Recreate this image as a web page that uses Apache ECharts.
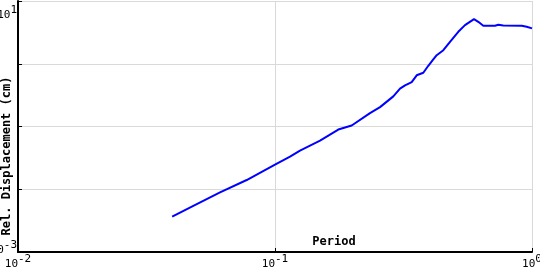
<!DOCTYPE html>
<html>
<head>
<meta charset="utf-8">
<script src="https://cdn.jsdelivr.net/npm/echarts@6/dist/echarts.min.js"></script>
<style>html,body{margin:0;padding:0;background:#fff}#c{width:540px;height:270px}</style>
</head>
<body>
<div id="c"></div>
<script>
const periods = [0.0398, 0.0481, 0.0611, 0.0776, 0.1, 0.1144, 0.1251, 0.1497, 0.1763, 0.1988, 0.2342, 0.2563, 0.2886, 0.3065, 0.3206, 0.3403, 0.3559, 0.3776, 0.3949, 0.4108, 0.4258, 0.4518, 0.4797, 0.5166, 0.5486, 0.5947, 0.618, 0.6463, 0.7178, 0.7395, 0.773, 0.912, 0.9537, 1.0];
const displacements = [0.00367, 0.00544, 0.00889, 0.01403, 0.02466, 0.0331, 0.0413, 0.0597, 0.0895, 0.1038, 0.163, 0.2036, 0.302, 0.401, 0.453, 0.511, 0.655, 0.718, 0.929, 1.138, 1.368, 1.644, 2.235, 3.23, 4.13, 5.15, 4.66, 4.03, 4.03, 4.18, 4.08, 4.03, 3.88, 3.66];
const xTitle = 'Period';
const yTitle = 'Rel. Displacement (cm)';

const FONT = '"DejaVu Sans Mono", monospace';
const rich = {
  b: {fontFamily: FONT, fontSize: 11, color: '#000'},
  s: {fontFamily: FONT, fontSize: 11, color: '#000', padding: [0, 0, 9, 0]},
  n: {fontFamily: FONT, fontSize: 11, lineHeight: 28},
  m: {fontFamily: FONT, fontSize: 11, lineHeight: 4}
};
const expOf = v => Math.round(Math.log10(v));

const chart = echarts.init(document.getElementById('c'), null, {renderer: 'canvas'});
chart.setOption({
  animation: false,
  backgroundColor: '#fff',
  grid: {left: 18, right: 8, top: 1, bottom: 18, containLabel: false, outerBoundsMode: 'none'},
  xAxis: {
    type: 'log', logBase: 10, min: 0.01, max: 1,
    name: xTitle, nameLocation: 'middle', nameGap: -16, nameMoveOverlap: false,
    nameTextStyle: {fontFamily: FONT, fontSize: 12, fontWeight: 'bold', color: '#000', padding: [0, 0, 0, 118]},
    axisLine: {show: true, onZero: false, lineStyle: {color: '#000', width: 2}},
    axisTick: {show: true, inside: true, length: 4, lineStyle: {color: '#000', width: 1}},
    minorTick: {show: false},
    splitLine: {show: true, lineStyle: {color: '#d9d9d9', width: 1}},
    axisLabel: {
      margin: 2, rich: rich, hideOverlap: false,
      formatter: v => '{b|10}{s|' + expOf(v) + '}'
    }
  },
  yAxis: {
    type: 'log', logBase: 10, min: 0.001, max: 10,
    name: yTitle, nameLocation: 'middle', nameGap: 5, nameRotate: 90, nameMoveOverlap: false,
    nameTextStyle: {fontFamily: FONT, fontSize: 12, fontWeight: 'bold', color: '#000', padding: [0, 59, 0, 0]},
    axisLine: {show: true, onZero: false, lineStyle: {color: '#000', width: 2}},
    axisTick: {show: true, inside: true, length: 4, lineStyle: {color: '#000', width: 1}},
    splitLine: {show: true, lineStyle: {color: '#d9d9d9', width: 1}},
    axisLabel: {
      margin: 1, rich: rich, hideOverlap: false,
      formatter: v => {
        const e = expOf(v);
        if (e === 1) return '{n| }\n{b|10}{s|1}';
        if (e === -3) return '{b|10}{s|-3}\n{m| }';
        return '';
      }
    }
  },
  series: [{
    type: 'line',
    data: periods.map((p, i) => [p, displacements[i]]),
    showSymbol: false, symbol: 'none',
    lineStyle: {color: '#0000ff', width: 2},
    clip: true
  }]
});
</script>
</body>
</html>
